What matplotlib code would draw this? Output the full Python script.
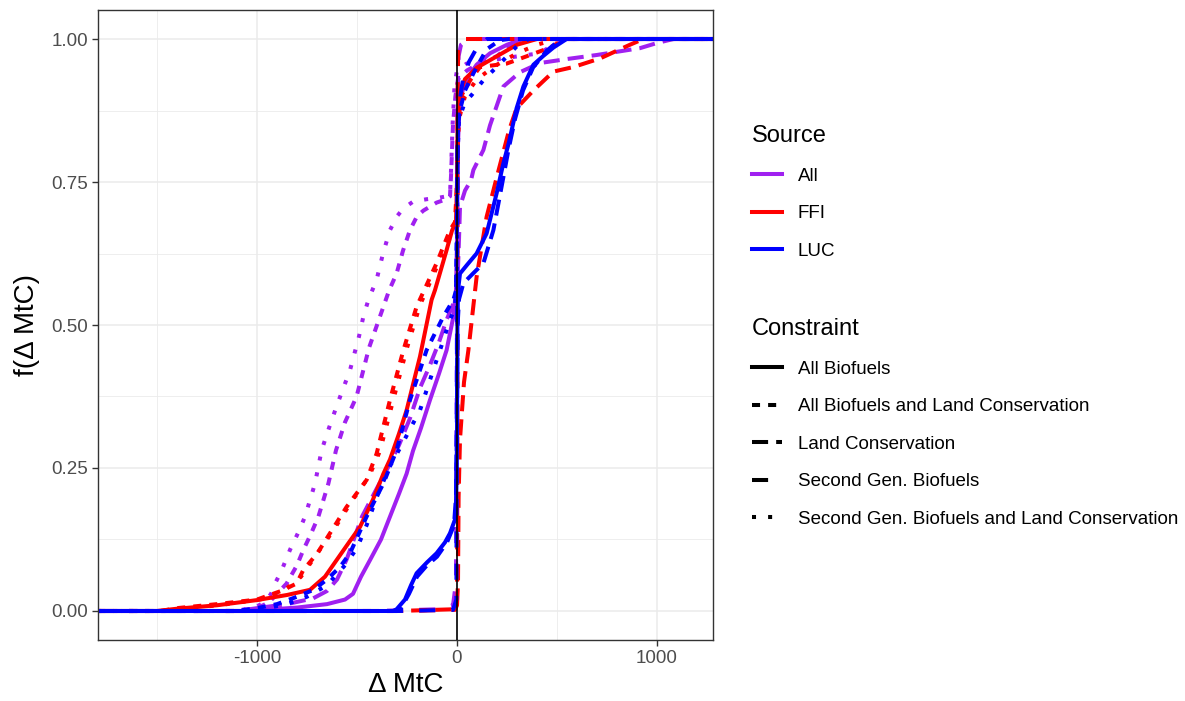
import matplotlib.pyplot as plt
from matplotlib.lines import Line2D

plt.rcParams['font.family'] = ['Liberation Sans', 'DejaVu Sans']
plt.rcParams['axes.unicode_minus'] = False

sources = ['All', 'FFI', 'LUC']
source_colors = ['#A020F0', '#FF0000', '#0000FF']
constraints = ['All Biofuels', 'All Biofuels and Land Conservation', 'Land Conservation',
               'Second Gen. Biofuels', 'Second Gen. Biofuels and Land Conservation']
constraint_dashes = [None, (2, 2), (4, 2), (4, 4), (1, 3)]

x_ticks = [-1000, 0, 1000]
x_minor = [-1500, -500, 500]
y_ticks = [0.0, 0.25, 0.5, 0.75, 1.0]
y_minor = [0.125, 0.375, 0.625, 0.875]

# ---- All (purple) ----
all_ab_x = [-1800, -1050, -800, -650, -560, -520, -480, -435, -380, -335, -290, -252, -220, -180, -135,
            -90, -52, -18, -5, 0, 3, 10, 15, 40, 98, 165, 250, 330, 1300]
all_ab_y = [0, 0, 0.006, 0.012, 0.02, 0.03, 0.06, 0.089, 0.125, 0.165, 0.205, 0.24, 0.28, 0.32, 0.369,
            0.415, 0.456, 0.515, 0.56, 0.65, 0.80, 0.86, 0.893, 0.925, 0.955, 0.975, 0.99, 1.0, 1.0]
all_ablc_x = [-1800, -1100, -1000, -940, -900, -852, -800, -768, -730, -693, -643, -605, -560, -502, -440,
              -385, -340, -302, -270, -235, -200, -168, -102, -52, -35, -30, -20, -8, 5, 50, 100, 200,
              250, 300, 1300]
all_ablc_y = [0, 0, 0.005, 0.015, 0.03, 0.048, 0.08, 0.107, 0.135, 0.165, 0.223, 0.281, 0.33, 0.375, 0.46,
              0.515, 0.56, 0.59, 0.63, 0.666, 0.69, 0.70, 0.714, 0.72, 0.725, 0.76, 0.85, 0.9, 0.93, 0.945,
              0.955, 0.97, 0.985, 1.0, 1.0]
all_lc_x = [-1800, -1100, -1000, -850, -720, -650, -600, -552, -475, -400, -352, -290, -235, -185, -135,
            -90, -52, -15, 0, 5, 10, 15, 40, 70, 82, 132, 165, 232, 315, 415, 550, 698, 915, 1000, 1082, 1300]
all_lc_y = [0, 0, 0.005, 0.012, 0.022, 0.035, 0.055, 0.09, 0.165, 0.215, 0.246, 0.29, 0.337, 0.39, 0.43,
            0.47, 0.509, 0.54, 0.56, 0.6, 0.65, 0.707, 0.735, 0.753, 0.771, 0.806, 0.849, 0.917, 0.942,
            0.958, 0.965, 0.972, 0.984, 0.993, 1.0, 1.0]
all_sg_x = [-1800, -400, -100, -20, -5, 0, 3, 8, 20, 60, 1300]
all_sg_y = [0, 0, 0.003, 0.01, 0.05, 0.5, 0.9, 0.97, 0.99, 1.0, 1.0]
all_sglc_x = [-1800, -1100, -1000, -960, -930, -910, -878, -835, -790, -760, -710, -677, -640, -600, -535,
              -490, -468, -443, -402, -370, -335, -300, -268, -218, -150, -100, -50, -35, -30, -22, -12,
              0, 48, 150, 250, 348, 415, 480, 540, 1300]
all_sglc_y = [0, 0, 0.008, 0.016, 0.03, 0.048, 0.07, 0.107, 0.14, 0.165, 0.223, 0.281, 0.32, 0.36, 0.421,
              0.48, 0.515, 0.544, 0.579, 0.625, 0.666, 0.69, 0.704, 0.716, 0.72, 0.722, 0.725, 0.728, 0.77,
              0.85, 0.92, 0.945, 0.957, 0.962, 0.967, 0.972, 0.975, 0.99, 1.0, 1.0]

# ---- FFI (red) ----
ffi_ab_x = [-1800, -1500, -1400, -1200, -1002, -850, -735, -660, -602, -540, -485, -420, -368, -335, -290,
            -252, -185, -127, -110, -52, -25, -5, 0, 3, 10, 40, 100, 200, 300, 400, 1300]
ffi_ab_y = [0, 0, 0.004, 0.01, 0.019, 0.028, 0.037, 0.06, 0.089, 0.12, 0.147, 0.195, 0.24, 0.265, 0.31,
            0.351, 0.445, 0.544, 0.561, 0.631, 0.665, 0.68, 0.75, 0.85, 0.9, 0.93, 0.95, 0.97, 0.99, 1.0, 1.0]
ffi_ablc_x = [-1800, -1480, -1400, -1200, -1000, -880, -802, -768, -700, -635, -552, -452, -402, -335, -268,
              -202, -102, -35, -10, 0, 5, 20, 70, 115, 248, 350, 465, 540, 1300]
ffi_ablc_y = [0, 0, 0.005, 0.012, 0.02, 0.035, 0.048, 0.072, 0.1, 0.136, 0.182, 0.229, 0.275, 0.369, 0.456,
              0.532, 0.608, 0.666, 0.68, 0.75, 0.85, 0.9, 0.93, 0.951, 0.957, 0.97, 0.985, 1.0, 1.0]
ffi_lc_x = [-1800, -300, -20, 0, 5, 8, 15, 35, 57, 98, 148, 200, 260, 298, 382, 482, 582, 715, 865, 932, 1300]
ffi_lc_y = [0, 0, 0.003, 0.01, 0.05, 0.2, 0.3, 0.4, 0.456, 0.584, 0.689, 0.76, 0.84, 0.879, 0.91, 0.943,
            0.951, 0.966, 0.99, 1.0, 1.0]
ffi_sg_x = [-1800, -320, -10, 0, 2, 3, 6, 15, 40, 1300]
ffi_sg_y = [0, 0, 0.002, 0.01, 0.3, 0.9, 0.98, 0.998, 1.0, 1.0]
ffi_sglc_x = [-1800, -1450, -1350, -1150, -950, -850, -780, -720, -620, -530, -440, -385, -318, -250, -185,
              -90, -25, -8, 0, 3, 10, 40, 100, 200, 300, 400, 500, 1300]
ffi_sglc_y = [0, 0, 0.004, 0.012, 0.022, 0.04, 0.06, 0.09, 0.14, 0.19, 0.235, 0.28, 0.37, 0.46, 0.535,
              0.61, 0.66, 0.672, 0.72, 0.8, 0.86, 0.9, 0.93, 0.955, 0.975, 0.99, 1.0, 1.0]

# ---- LUC (blue) ----
luc_ab_x = [-1800, -320, -302, -260, -230, -202, -150, -102, -60, -35, -10, -5, 0, 2, 5, 15, 50, 98, 148,
            198, 230, 260, 298, 332, 382, 430, 482, 548, 1300]
luc_ab_y = [0, 0, 0.003, 0.02, 0.045, 0.066, 0.085, 0.101, 0.12, 0.136, 0.16, 0.177, 0.3, 0.5, 0.56, 0.59,
            0.605, 0.625, 0.66, 0.73, 0.78, 0.82, 0.879, 0.917, 0.955, 0.97, 0.985, 1.0, 1.0]
luc_ablc_x = [-1800, -1100, -1000, -900, -800, -718, -650, -585, -535, -452, -368, -302, -235, -152, -68,
              -18, -5, 0, 5, 15, 40, 82, 148, 215, 260, 1300]
luc_ablc_y = [0, 0, 0.005, 0.012, 0.025, 0.037, 0.055, 0.077, 0.101, 0.165, 0.223, 0.281, 0.369, 0.456,
              0.515, 0.544, 0.56, 0.7, 0.85, 0.876, 0.91, 0.94, 0.982, 0.998, 1.0, 1.0]
luc_lc_x = [-1800, -300, -280, -240, -200, -150, -100, -50, -15, -5, 0, 3, 10, 32, 80, 132, 182, 223, 257,
            290, 330, 380, 450, 520, 1300]
luc_lc_y = [0, 0, 0.005, 0.03, 0.06, 0.08, 0.095, 0.12, 0.15, 0.2, 0.35, 0.5, 0.545, 0.573, 0.59, 0.608,
            0.666, 0.742, 0.806, 0.86, 0.91, 0.95, 0.98, 1.0, 1.0]
luc_sg_x = [-1800, -300, -20, -3, 0, 2, 8, 30, 60, 100, 150, 1300]
luc_sg_y = [0, 0, 0.002, 0.02, 0.5, 0.8, 0.88, 0.93, 0.96, 0.985, 1.0, 1.0]
luc_sglc_x = [-1800, -1050, -950, -850, -750, -650, -560, -500, -452, -400, -340, -277, -185, -120, -85,
              -35, -10, 0, 3, 10, 40, 73, 132, 198, 265, 315, 360, 1300]
luc_sglc_y = [0, 0, 0.005, 0.012, 0.025, 0.045, 0.08, 0.11, 0.15, 0.2, 0.25, 0.29, 0.351, 0.42, 0.456,
              0.509, 0.53, 0.6, 0.8, 0.86, 0.89, 0.902, 0.928, 0.951, 0.975, 0.993, 1.0, 1.0]

series = {
    'All': [(all_ab_x, all_ab_y), (all_ablc_x, all_ablc_y), (all_lc_x, all_lc_y),
            (all_sg_x, all_sg_y), (all_sglc_x, all_sglc_y)],
    'FFI': [(ffi_ab_x, ffi_ab_y), (ffi_ablc_x, ffi_ablc_y), (ffi_lc_x, ffi_lc_y),
            (ffi_sg_x, ffi_sg_y), (ffi_sglc_x, ffi_sglc_y)],
    'LUC': [(luc_ab_x, luc_ab_y), (luc_ablc_x, luc_ablc_y), (luc_lc_x, luc_lc_y),
            (luc_sg_x, luc_sg_y), (luc_sglc_x, luc_sglc_y)],
}

lw = 2.9
fig = plt.figure(figsize=(11.85, 7.01), dpi=100)
ax = fig.add_axes([98 / 1185, 61 / 701, 615 / 1185, 630 / 701])

for src, col in zip(sources, source_colors):
    for (xs, ys), dash in zip(series[src], constraint_dashes):
        line, = ax.plot(xs, ys, color=col, lw=lw, solid_joinstyle='round')
        if dash is not None:
            line.set_dashes(dash)

ax.axvline(0, color='black', lw=1.2, zorder=5)

ax.set_xlim(-1795, 1280)
ax.set_ylim(-0.0507, 1.0507)
ax.set_xticks(x_ticks)
ax.set_xticklabels([str(v) for v in x_ticks])
ax.set_xticks(x_minor, minor=True)
ax.set_yticks(y_ticks)
ax.set_yticklabels(['%.2f' % v for v in y_ticks])
ax.set_yticks(y_minor, minor=True)
ax.grid(True, which='major', color='#EBEBEB', lw=1.1)
ax.grid(True, which='minor', color='#EBEBEB', lw=0.6)
ax.set_axisbelow(True)
ax.tick_params(which='major', length=4, width=1, color='#333333', labelsize=13.5,
               labelcolor='#4D4D4D', pad=3)
ax.tick_params(which='minor', length=0)
for sp in ax.spines.values():
    sp.set_color('#333333')
    sp.set_linewidth(1.0)

ax.set_xlabel('Δ MtC', fontsize=20, labelpad=4)
ax.set_ylabel('f(Δ MtC)', fontsize=20, labelpad=8)

src_handles = [Line2D([], [], color=c, lw=lw) for c in source_colors]
leg1 = fig.legend(src_handles, sources, title='Source', loc='upper left',
                  bbox_to_anchor=(752 / 1185, 1 - 125 / 701), frameon=False,
                  fontsize=13.5, title_fontsize=17, handlelength=1.6, handletextpad=0.85,
                  labelspacing=1.09, borderpad=0, borderaxespad=0, alignment='left')

con_handles = []
for d in constraint_dashes:
    h = Line2D([], [], color='black', lw=lw)
    if d is not None:
        h.set_dashes(d)
    con_handles.append(h)
leg2 = fig.legend(con_handles, constraints, title='Constraint', loc='upper left',
                  bbox_to_anchor=(752 / 1185, 1 - 318 / 701), frameon=False,
                  fontsize=13.5, title_fontsize=17, handlelength=1.6, handletextpad=0.85,
                  labelspacing=1.09, borderpad=0, borderaxespad=0, alignment='left')

fig.savefig('out.png', dpi=100)
